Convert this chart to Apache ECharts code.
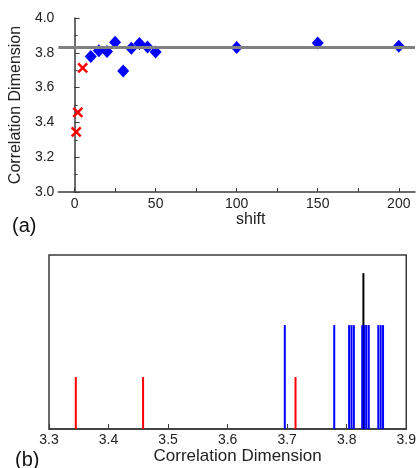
<!DOCTYPE html>
<html><head><meta charset="utf-8">
<script src="https://cdn.jsdelivr.net/npm/echarts@6/dist/echarts.min.js"></script>
<style>html,body{margin:0;padding:0;background:#fff}#c{width:419px;height:468px}</style>
</head><body><div id="c"></div>
<script>
// (a) correlation dimension vs shift
var blueShift = [10, 15, 20, 25, 30, 35, 40, 45, 50, 100, 150, 200];
var blueDim   = [3.779, 3.812, 3.808, 3.861, 3.696, 3.826, 3.853, 3.833, 3.804, 3.830, 3.857, 3.837];
var redShift  = [1, 2, 5];
var redDim    = [3.345, 3.458, 3.714];
var refDim    = [3.828];
// (b) stick heights
var redHeight = 1, blueHeight = 2, refHeight = 3;
var xTicksA = [0, 50, 100, 150, 200];
var xMinorA = [0, 25, 50, 75, 100, 125, 150, 175, 200];

var font = 'Liberation Sans, Arial, sans-serif';
var axisCol = '#3a3a3a';

function sticks(vals, h) { return vals.map(function (v) { return [v, h]; }); }
function stickSeries(vals, h, color, width) {
  return {
    type: 'custom', xAxisIndex: 1, yAxisIndex: 1, silent: true,
    data: sticks(vals, h),
    renderItem: function (params, api) {
      var p0 = api.coord([api.value(0), 0]);
      var p1 = api.coord([api.value(0), api.value(1)]);
      return { type: 'line', shape: { x1: p0[0], y1: p0[1], x2: p1[0], y2: p1[1] },
               style: { stroke: color, lineWidth: width } };
    }
  };
}

var chart = echarts.init(document.getElementById('c'), null, { renderer: 'canvas' });
chart.setOption({
  animation: false,
  textStyle: { fontFamily: font },
  grid: [
    { left: 56, top: 18, width: 359, height: 174 },
    { left: 49, top: 255, width: 360, height: 174, show: true, borderColor: axisCol, borderWidth: 1.5 }
  ],
  xAxis: [
    { type: 'value', gridIndex: 0, min: -10, max: 210,
      axisLine: { lineStyle: { color: axisCol, width: 1.5 } },
      axisTick: { inside: true, length: 4, customValues: xMinorA, lineStyle: { color: axisCol } },
      axisLabel: { customValues: xTicksA, margin: 5, fontSize: 14, color: '#222', fontFamily: font },
      splitLine: { show: false },
      name: 'shift', nameLocation: 'middle', nameGap: 16,
      nameTextStyle: { fontSize: 16, color: '#222', fontFamily: font, padding: [0, 0, 0, 28] } },
    { type: 'value', gridIndex: 1, min: 3.3, max: 3.9, interval: 0.1,
      axisLine: { lineStyle: { color: axisCol, width: 1.5 } },
      axisTick: { inside: true, length: 5, lineStyle: { color: axisCol } },
      axisLabel: { margin: 4, fontSize: 14, color: '#222', fontFamily: font,
                   formatter: function (v) { return v.toFixed(1); } },
      splitLine: { show: false },
      name: 'Correlation Dimension', nameLocation: 'middle', nameGap: 11,
      nameTextStyle: { fontSize: 17, color: '#222', fontFamily: font, padding: [0, 0, 0, 20] } }
  ],
  yAxis: [
    { type: 'value', gridIndex: 0, min: 3.0, max: 4.0, interval: 0.2,
      axisLine: { show: true, lineStyle: { color: axisCol, width: 1.5 } },
      axisTick: { show: true, inside: true, length: 5, lineStyle: { color: axisCol } },
      minorTick: { show: true, splitNumber: 2, length: 3, lineStyle: { color: axisCol } },
      axisLabel: { margin: 4, fontSize: 14, color: '#222', fontFamily: font,
                   formatter: function (v) { return v.toFixed(1); } },
      splitLine: { show: false },
      name: 'Correlation Dimension', nameLocation: 'middle', nameGap: 30,
      nameTextStyle: { fontSize: 16, color: '#222', fontFamily: font } },
    { type: 'value', gridIndex: 1, min: 0, max: 3.35, show: false, splitLine: { show: false } }
  ],
  series: [
    { type: 'line', xAxisIndex: 0, yAxisIndex: 0, data: [], silent: true,
      markLine: { silent: true, symbol: 'none', label: { show: false },
                  lineStyle: { color: '#808080', width: 3, type: 'solid' },
                  data: refDim.map(function (v) { return { yAxis: v }; }) } },
    { type: 'scatter', xAxisIndex: 0, yAxisIndex: 0, symbol: 'diamond', symbolSize: [12, 13],
      itemStyle: { color: '#0000ff', opacity: 1 },
      data: blueShift.map(function (s, i) { return [s, blueDim[i]]; }) },
    { type: 'scatter', xAxisIndex: 0, yAxisIndex: 0, symbol: 'path://M0,0L10,10M10,0L0,10', symbolSize: 9,
      itemStyle: { color: 'none', borderColor: '#ff0000', borderWidth: 2.5, opacity: 1 },
      data: redShift.map(function (s, i) { return [s, redDim[i]]; }) },
    stickSeries(refDim, refHeight, '#000000', 2),
    stickSeries(blueDim, blueHeight, '#0000ff', 2),
    stickSeries(redDim, redHeight, '#ff0000', 2)
  ],
  graphic: [
    { type: 'text', left: 12, top: 216, style: { text: '(a)', font: '20px ' + font, fill: '#111' } },
    { type: 'text', left: 15, top: 450, style: { text: '(b)', font: '20px ' + font, fill: '#111' } }
  ]
});
</script></body></html>
